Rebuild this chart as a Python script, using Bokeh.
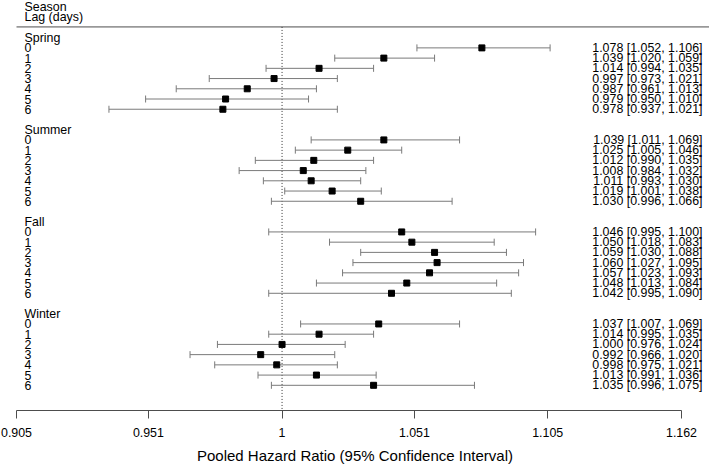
import math
from bokeh.plotting import figure
from bokeh.models import (ColumnDataSource, Range1d, LabelSet, FixedTicker,
                          CustomJSTickFormatter)
from bokeh.core.properties import value
from bokeh.embed import file_html
from bokeh.resources import INLINE

# ---------------- data ----------------
seasons = ["Spring", "Summer", "Fall", "Winter"]
lags = [0, 1, 2, 3, 4, 5, 6]

spring_hr = [1.078, 1.039, 1.014, 0.997, 0.987, 0.979, 0.978]
spring_lo = [1.052, 1.020, 0.994, 0.973, 0.961, 0.950, 0.937]
spring_hi = [1.106, 1.059, 1.035, 1.021, 1.013, 1.010, 1.021]

summer_hr = [1.039, 1.025, 1.012, 1.008, 1.011, 1.019, 1.030]
summer_lo = [1.011, 1.005, 0.990, 0.984, 0.993, 1.001, 0.996]
summer_hi = [1.069, 1.046, 1.035, 1.032, 1.030, 1.038, 1.066]

fall_hr = [1.046, 1.050, 1.059, 1.060, 1.057, 1.048, 1.042]
fall_lo = [0.995, 1.018, 1.030, 1.027, 1.023, 1.013, 0.995]
fall_hi = [1.100, 1.083, 1.088, 1.095, 1.093, 1.084, 1.090]

winter_hr = [1.037, 1.014, 1.000, 0.992, 0.998, 1.013, 1.035]
winter_lo = [1.007, 0.995, 0.976, 0.966, 0.975, 0.991, 0.996]
winter_hi = [1.069, 1.035, 1.024, 1.020, 1.021, 1.036, 1.075]

tick_values = [0.905, 0.951, 1.0, 1.051, 1.105, 1.162]
tick_labels = ["0.905", "0.951", "1", "1.051", "1.105", "1.162"]

header_1 = "Season"
header_2 = "Lag (days)"
x_title = "Pooled Hazard Ratio (95% Confidence Interval)"

# ---------------- build rows ----------------
hr_all = [spring_hr, summer_hr, fall_hr, winter_hr]
lo_all = [spring_lo, summer_lo, fall_lo, winter_lo]
hi_all = [spring_hi, summer_hi, fall_hi, winter_hi]

row_y, row_hr, row_lo, row_hi, row_txt = [], [], [], [], []
lab_y, lab_txt = [0, 1], [header_1, header_2]
for i, s in enumerate(seasons):
    base = 3 + 9 * i
    lab_y.append(base)
    lab_txt.append(s)
    for j, lag in enumerate(lags):
        y = base + 1 + j
        lab_y.append(y)
        lab_txt.append(str(lag))
        row_y.append(y)
        row_hr.append(hr_all[i][j])
        row_lo.append(lo_all[i][j])
        row_hi.append(hi_all[i][j])
        row_txt.append(f"{hr_all[i][j]:.3f} [{lo_all[i][j]:.3f}, {hi_all[i][j]:.3f}]")

src = ColumnDataSource(dict(y=row_y, hr=row_hr, lo=row_lo, hi=row_hi, txt=row_txt))
lab_src = ColumnDataSource(dict(y=lab_y, txt=lab_txt))

# ---------------- figure ----------------
W, H = 709, 466
frame_h = 411
row_px = 10.25
top_px = 6.5
x_left_px, x_right_px = 16, 681       # where first / last tick sit
ln0, ln1 = math.log(tick_values[0]), math.log(tick_values[-1])
ppl = (x_right_px - x_left_px) / (ln1 - ln0)
x_start = math.exp(ln0 - x_left_px / ppl)
x_end = math.exp(ln1 + (W - x_right_px) / ppl)
y_top = -top_px / row_px
y_bot = y_top + frame_h / row_px
rule_y = 1.95

p = figure(width=W, height=H, output_backend="svg", toolbar_location=None,
           x_axis_type="log", x_range=Range1d(x_start, x_end),
           y_range=Range1d(y_bot, y_top), y_axis_location=None,
           min_border_left=0, min_border_right=0, min_border_top=0,
           min_border_bottom=H - frame_h)
p.outline_line_color = None
p.xgrid.visible = False
p.ygrid.visible = False
p.background_fill_color = "white"
p.border_fill_color = "white"

FONT = "Liberation Sans"
GRAY = "#7a7a7a"
DARK = "#4d4d4d"

# header rule and reference line
p.segment(x0=[tick_values[0]], x1=[x_end], y0=[rule_y], y1=[rule_y],
          line_color=DARK, line_width=1)
p.segment(x0=[1.0], x1=[1.0], y0=[rule_y], y1=[y_bot], line_color="#333333",
          line_width=1, line_dash="1 2")

# confidence intervals
p.segment(x0="lo", x1="hi", y0="y", y1="y", source=src, line_color=GRAY, line_width=1)
p.scatter(x="lo", y="y", source=src, marker="dash", angle=math.pi / 2, size=7,
          line_color=GRAY, line_width=1)
p.scatter(x="hi", y="y", source=src, marker="dash", angle=math.pi / 2, size=7,
          line_color=GRAY, line_width=1)
p.scatter(x="hr", y="y", source=src, marker="square", size=6,
          fill_color="black", line_color="black")

# texts
p.add_layout(LabelSet(x=24, y="y", x_units="screen", text="txt", source=lab_src,
                      text_font=value(FONT), text_font_size="12.4px", text_color="black",
                      text_baseline="middle", text_align="left"))
p.add_layout(LabelSet(x=702, y="y", x_units="screen", text="txt", source=src,
                      text_font=value(FONT), text_font_size="12.4px", text_color="black",
                      text_baseline="middle", text_align="right"))

# axis
ax = p.xaxis[0]
ax.ticker = FixedTicker(ticks=tick_values, minor_ticks=[])
ax.formatter = CustomJSTickFormatter(code="return String(tick)")
ax.major_label_overrides = dict(zip(tick_values, tick_labels))
ax.bounds = (tick_values[0], tick_values[-1])
ax.axis_line_color = DARK
ax.major_tick_line_color = DARK
ax.major_tick_out = 8
ax.major_tick_in = 0
ax.minor_tick_out = 0
ax.minor_tick_in = 0
ax.major_label_standoff = 9
ax.major_label_text_font = FONT
ax.major_label_text_font_size = "12.4px"
ax.major_label_text_color = "black"
ax.axis_label = x_title
ax.axis_label_text_font = FONT
ax.axis_label_text_font_size = "15px"
ax.axis_label_text_font_style = "normal"
ax.axis_label_text_color = "black"
ax.axis_label_standoff = 7

open("out.html", "w").write(file_html(p, INLINE))
